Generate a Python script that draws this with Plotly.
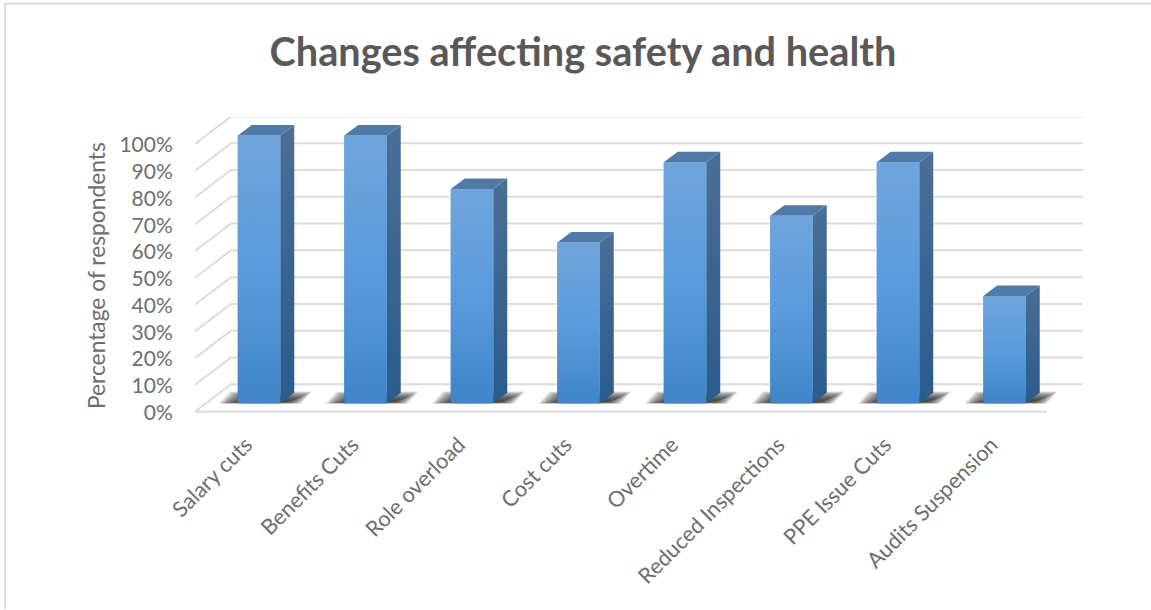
import plotly.graph_objects as go

categories = ["Salary cuts", "Benefits Cuts", "Role overload", "Cost cuts", "Overtime",
              "Reduced Inspections", "PPE Issue Cuts", "Audits Suspension"]
values = [100, 100, 80, 60, 90, 70, 90, 40]
y_ticks = [0, 10, 20, 30, 40, 50, 60, 70, 80, 90, 100]
y_labels = [f"{t}%" for t in y_ticks]

W, H = 1151, 610
L, R, T, B = 195, 1083, 116.5, 412
PX_X, PX_Y = 106.5, 2.685          # pixels per category / per percent
BELOW = 2                          # axis units kept under 0% so the 0% label stays in range
X0 = -(248 - L) / PX_X
X1 = (R - 248) / PX_X
Y1 = (B - T) / PX_Y
BOTTOM_PX = B + BELOW * PX_Y
WALL_X, WALL_Y = 36 / PX_X, 27.5 / PX_Y     # depth of the floor
BAR_W = 42.5 / PX_X
OFF_X, OFF_Y = 11 / PX_X, 8.5 / PX_Y        # bar front face offset from floor front
DEP_X, DEP_Y = 14 / PX_X, 10.5 / PX_Y       # bar depth
LABEL_NUDGE_X, LABEL_NUDGE_Y = 2 / PX_X, 1 / PX_Y

GRID = "#dcdcdc"
TXT = "#6e6e6e"
FONT = "Lato"

fig = go.Figure()

# carrier bars (covered by gradient faces)
fig.add_trace(go.Bar(x=[i + OFF_X for i in range(len(values))], y=values, base=OFF_Y, width=BAR_W,
                     marker=dict(color="#5b9bd5", line=dict(width=0)), showlegend=False,
                     hoverinfo="skip"))


def line(xs, ys, color=GRID, width=2):
    fig.add_trace(go.Scatter(x=xs, y=ys, mode="lines", line=dict(color=color, width=width),
                             showlegend=False, hoverinfo="skip"))


# walls and gridlines
for t in y_ticks:
    line([X0, X0 + WALL_X, X1], [t, t + WALL_Y, t + WALL_Y])
line([X0, (1047 - 248) / PX_X], [0, 0])


def poly(xs, ys, color=None, grad=None):
    kw = dict(fill="toself", mode="lines", line=dict(width=0), showlegend=False, hoverinfo="skip")
    if grad:
        kw["fillgradient"] = dict(type="vertical", colorscale=[[0, grad[0]], [0.5, grad[1]], [1, grad[2]]])
    else:
        kw["fillcolor"] = color
    fig.add_trace(go.Scatter(x=xs + xs[:1], y=ys + ys[:1], **kw))


# floor shadows: stacked translucent parallelograms that fade outwards
LAYERS = 22
for i, _ in enumerate(values):
    xa = i + OFF_X - BAR_W / 2
    for k in range(LAYERS):
        e = 1 - k / (LAYERS - 1)
        grow_x = e * 18 / PX_X
        bx0 = xa - 1 / PX_X - grow_x
        bx1 = xa + BAR_W + 3 / PX_X + grow_x
        by0 = OFF_Y + (1 - e * 1.5) / PX_Y
        by1 = OFF_Y + (3 + e * 9) / PX_Y
        sk = 11 / PX_X
        poly([bx0, bx1, bx1 + sk, bx0 + sk], [by0, by0, by1, by1], color="rgba(35,35,35,0.075)")

# 3D bar faces
for i, v in enumerate(values):
    xa = i + OFF_X - BAR_W / 2
    xb = xa + BAR_W
    base = OFF_Y
    top = OFF_Y + v
    # side
    poly([xb, xb + DEP_X, xb + DEP_X, xb], [top, top + DEP_Y, base + DEP_Y, base],
         grad=("#2a5c8e", "#3a648f", "#4a6f98"))
    # top
    poly([xa, xb, xb + DEP_X, xa + DEP_X], [top, top, top + DEP_Y, top + DEP_Y], color="#517aa8")
    # front
    poly([xa, xb, xb, xa], [base, base, top, top], grad=("#4085c9", "#5a9bdc", "#70a5dc"))

span_h = BOTTOM_PX - T
fig.update_layout(
    width=W, height=H,
    margin=dict(l=L, r=W - R, t=T, b=H - BOTTOM_PX, autoexpand=False),
    paper_bgcolor="white", plot_bgcolor="white",
    font=dict(family=FONT, color=TXT),
    showlegend=False,
    title=dict(text="<b>Changes affecting safety and health</b>", x=583 / W, xanchor="center",
               y=1 - 52 / H, yanchor="middle", font=dict(family=FONT, size=39.7, color="#595959")),
    xaxis=dict(range=[X0, X1], tickmode="array",
               tickvals=[i - LABEL_NUDGE_X for i in range(len(categories))], ticktext=categories,
               tickangle=-45, showgrid=False, zeroline=False, showline=False, ticks="outside",
               ticklen=5.5, tickcolor="rgba(0,0,0,0)",
               tickfont=dict(family=FONT, size=21.7, color=TXT)),
    yaxis=dict(range=[-BELOW, Y1], tickmode="array", tickvals=[t - LABEL_NUDGE_Y for t in y_ticks], ticktext=y_labels,
               showgrid=False, zeroline=False, showline=False, ticks="outside",
               ticklen=17, tickcolor="rgba(0,0,0,0)", tickfont=dict(family=FONT, size=21, color=TXT)),
    annotations=[dict(text="Percentage of respondents", textangle=-90, xref="paper", yref="paper",
                      x=(96 - L) / (R - L), y=(BOTTOM_PX - 276) / span_h, xanchor="center", yanchor="middle",
                      showarrow=False, font=dict(family=FONT, size=22.8, color=TXT))],
    shapes=[
        dict(type="line", xref="paper", yref="paper", x0=(5 - L) / (R - L), x1=(5 - L) / (R - L),
             y0=(BOTTOM_PX - 3) / span_h, y1=(BOTTOM_PX - 610) / span_h, line=dict(color="#dcdcdc", width=2)),
        dict(type="line", xref="paper", yref="paper", x0=(5 - L) / (R - L), x1=(1151 - L) / (R - L),
             y0=(BOTTOM_PX - 3) / span_h, y1=(BOTTOM_PX - 3) / span_h, line=dict(color="#dcdcdc", width=2)),
    ],
)

fig.write_html("out.html", config=dict(displayModeBar=False), post_script="document.body.style.margin='0';")
